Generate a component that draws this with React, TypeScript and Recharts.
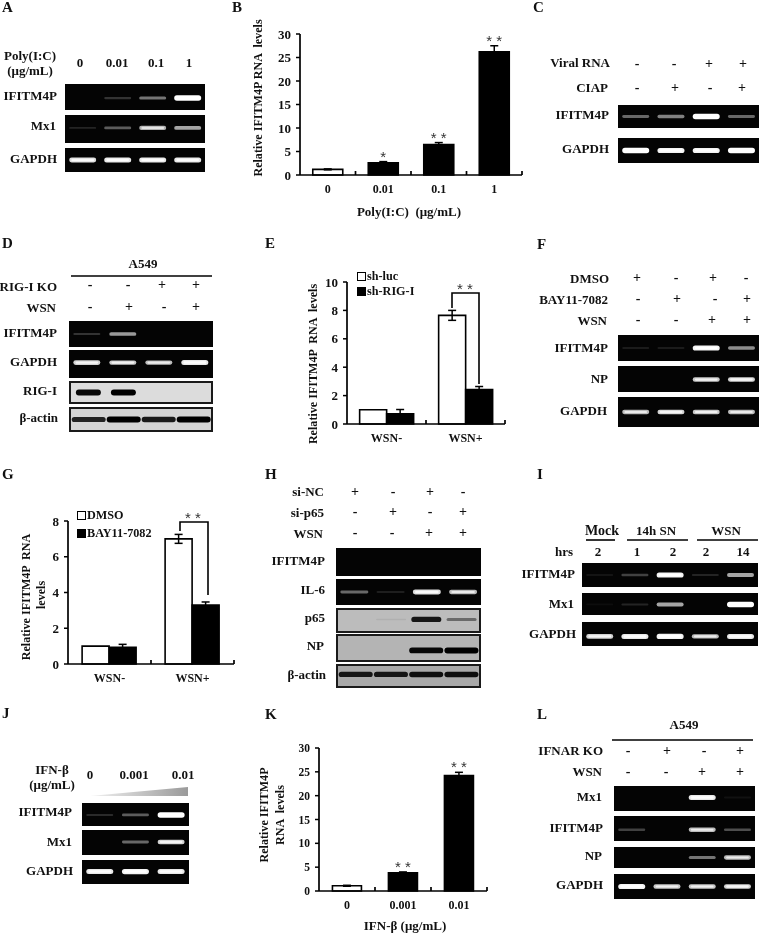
import React from 'react';
import { Bar, BarChart, Cell, ComposedChart, ErrorBar, LabelList, Legend, Line, XAxis, YAxis } from 'recharts';

const SERIF = '"Liberation Serif", "Times New Roman", serif';

// panel B
const bCats = ['0', '0.01', '0.1', '1'];
const bValues = [1.2, 2.6, 6.5, 26.2];
const bErrs = [0.1, 0.25, 0.4, 1.3];
const bStars = ['', '*', '* *', '* *'];
// panel E
const eCats = ['WSN-', 'WSN+'];
const eLuc = [1, 7.65];
const eLucErr = [0, 0.35];
const eRig = [0.72, 2.42];
const eRigErr = [0.3, 0.22];
// panel G
const gCats = ['WSN-', 'WSN+'];
const gDmso = [1, 7];
const gDmsoErr = [0, 0.25];
const gBay = [0.93, 3.3];
const gBayErr = [0.17, 0.17];
// panel K
const kCats = ['0', '0.001', '0.01'];
const kValues = [1.1, 3.8, 24.2];
const kErrs = [0.1, 0.2, 0.7];
const kStars = ['', '* *', '* *'];

// gel band strengths, one per lane
const aIfitm = [0, 0.15, 0.4, 1];
const aMx1 = [0.1, 0.3, 0.65, 0.6];
const aGapdh = [0.85, 0.9, 0.9, 0.9];
const cIfitm = [0.35, 0.45, 1, 0.35];
const cGapdh = [1, 0.95, 0.95, 1];
const dIfitm = [0.15, 0.55, 0, 0];
const dGapdh = [0.8, 0.75, 0.7, 0.9];
const dRig = [0.95, 1, 0, 0];
const dActin = [0.8, 1, 0.85, 1];
const fIfitm = [0.07, 0.07, 0.95, 0.5];
const fNp = [0, 0, 0.75, 0.8];
const fGapdh = [0.7, 0.8, 0.75, 0.7];
const hIfitm = [0, 0, 0, 0];
const hIl6 = [0.35, 0.08, 0.85, 0.7];
const hP65 = [0, 0.03, 0.85, 0.35];
const hNp = [0, 0, 0.95, 1];
const hActin = [0.85, 0.85, 0.9, 0.9];
const iIfitm = [0.05, 0.2, 0.95, 0.1, 0.6];
const iMx1 = [0.03, 0.1, 0.6, 0, 1];
const iGapdh = [0.8, 0.9, 0.95, 0.7, 0.9];
const jIfitm = [0.12, 0.3, 1];
const jMx1 = [0, 0.35, 0.8];
const jGapdh = [0.9, 0.95, 0.9];
const lMx1 = [0, 0, 0.9, 0.04];
const lIfitm = [0.2, 0, 0.7, 0.25];
const lNp = [0, 0, 0.4, 0.7];
const lGapdh = [0.95, 0.75, 0.75, 0.8];

// + / - rows
const cViral = ['-', '-', '+', '+'];
const cCiap = ['-', '+', '-', '+'];
const dKo = ['-', '-', '+', '+'];
const dWsn = ['-', '+', '-', '+'];
const fDmso = ['+', '-', '+', '-'];
const fBay = ['-', '+', '-', '+'];
const fWsn = ['-', '-', '+', '+'];
const hNc = ['+', '-', '+', '-'];
const hSi = ['-', '+', '-', '+'];
const hWsn = ['-', '-', '+', '+'];
const lKo = ['-', '+', '-', '+'];
const lWsn = ['-', '-', '+', '+'];

const T = ({ x, y, a = 'r', s = 13, children }: any) => {
  const tx = a === 'r' ? '-100%' : a === 'c' ? '-50%' : '0';
  return (
    <div style={{ position: 'absolute', left: x, top: y, transform: `translate(${tx}, -50%)`, font: `bold ${s}px ${SERIF}`, whiteSpace: 'pre', color: '#111' }}>
      {children}
    </div>
  );
};

const V = ({ x, y, s = 12.1, children }: any) => (
  <div style={{ position: 'absolute', left: x, top: y, transform: 'translate(-50%, -50%) rotate(-90deg)', font: `bold ${s}px ${SERIF}`, whiteSpace: 'pre', color: '#111' }}>
    {children}
  </div>
);

const Signs = ({ y, xs, signs }: any) => (
  <>
    {signs.map((sg: string, i: number) => (
      <T key={i} x={xs[i]} y={y} a="c" s={14}>{sg}</T>
    ))}
  </>
);

const gray = (t: number) => {
  const v = Math.round(255 * Math.pow(t, 0.85));
  return `rgb(${v},${v},${v})`;
};

// one blot strip: a bar per lane, the bar's height carries the band strength
const Gel = ({ x, y, w, h, values, at = 0.5, bg, frame, gap = '12%' }: any) => {
  const cw = frame ? w - 4 : w;
  const ch = frame ? h - 4 : h;
  const mid = ch * at;
  const band = (p: any) => {
    const t = p.height / ch;
    if (!(t > 0)) return <g />;
    if (frame) {
      const th = 1.5 + 4.5 * t;
      return <rect x={p.x} y={mid - th / 2} width={p.width} height={th} rx={th / 2} fill="#000" opacity={Math.pow(t, 0.8)} style={{ filter: 'blur(0.7px)' }} />;
    }
    const th = 1.6 + 3.8 * t;
    return (
      <g style={{ filter: 'blur(0.7px)' }}>
        <rect x={p.x} y={mid - th / 2} width={p.width} height={th} rx={th / 2} fill={gray(t)} />
        {t > 0.6 && <rect x={p.x + p.width * 0.08} y={mid - th / 4} width={p.width * 0.84} height={th / 2} rx={th / 4} fill="#fff" opacity={t} />}
      </g>
    );
  };
  const data = values.map((v: number, i: number) => ({ lane: String(i), signal: v }));
  return (
    <div style={{ position: 'absolute', left: x, top: y, width: w, height: h, boxSizing: 'border-box', background: bg || '#040404', border: frame ? '2px solid #1a1a1a' : 'none' }}>
      <BarChart width={cw} height={ch} data={data} margin={{ top: 0, right: 0, bottom: 0, left: 0 }} barCategoryGap={gap}>
        <XAxis dataKey="lane" hide />
        <YAxis hide domain={[0, 1]} />
        <Bar dataKey="signal" shape={band} isAnimationActive={false} />
      </BarChart>
    </div>
  );
};

const LegendBox = ({ payload, size }: any) => (
  <div>
    {(payload || []).map((e: any, i: number) => (
      <div key={e.value} style={{ display: 'flex', alignItems: 'center', height: size, font: `bold 12.2px ${SERIF}`, color: '#111' }}>
        <span style={{ width: 7, height: 7, border: '1.5px solid #000', background: i === 0 ? '#fff' : '#000', marginRight: 1 }} />
        {e.value}
      </div>
    ))}
  </div>
);

// plot box is given in page pixels so the axes land where the figure has them
const RnaChart = ({ left, top, w, h, data, series, max, ticks, font = 13, xFont = 12, gap, legendAt, legendRow, openFirst }: any) => {
  const pad = { left: 32, top: 22, right: 8, bottom: 26 };
  const tick = { fill: '#111', fontSize: font, fontWeight: 'bold', fontFamily: SERIF };
  const bandW = w / data.length;
  // category label below the axis, with the short inward mark at the band's right edge
  const catTick = (p: any) => (
    <g>
      <line x1={p.x + bandW / 2} x2={p.x + bandW / 2} y1={p.y} y2={p.y - 4} stroke="#000" strokeWidth={1.7} />
      <text x={p.x} y={p.y + 15} textAnchor="middle" dominantBaseline="middle" fill="#111" fontSize={xFont} fontWeight="bold" fontFamily={SERIF}>
        {p.payload.value}
      </text>
    </g>
  );
  return (
    <div style={{ position: 'absolute', left: left - pad.left, top: top - pad.top }}>
      <ComposedChart
        width={w + pad.left + pad.right}
        height={h + pad.top + pad.bottom}
        data={data}
        margin={{ top: pad.top, right: pad.right, bottom: 0, left: 0 }}
        barCategoryGap={gap}
        barGap={0}
      >
        <XAxis
          dataKey="cat"
          height={pad.bottom}
          tickLine={false}
          tickSize={0}
          tickMargin={0}
          interval={0}
          axisLine={{ stroke: '#000', strokeWidth: 1.7 }}
          tick={catTick}
        />
        <YAxis
          width={pad.left}
          domain={[0, max]}
          ticks={ticks}
          tickSize={4}
          tickMargin={5}
          interval={0}
          axisLine={{ stroke: '#000', strokeWidth: 1.7 }}
          tickLine={{ stroke: '#000', strokeWidth: 1.5 }}
          tick={tick}
        />
        {series.map((s: any) => (
          <Bar key={s.key} name={s.name} dataKey={s.key} fill={s.fill} stroke="#000" strokeWidth={1.6} isAnimationActive={false}>
            {openFirst && data.map((_: any, i: number) => <Cell key={i} fill={i === 0 ? '#fff' : s.fill} />)}
            <ErrorBar dataKey={s.err} width={4} stroke="#000" strokeWidth={1.5} isAnimationActive={false} />
          </Bar>
        ))}
        {openFirst && (
          <Line dataKey="capTop" stroke="none" dot={false} legendType="none" isAnimationActive={false}>
            <LabelList dataKey="star" position="top" offset={0} style={{ fill: '#333', fontSize: 15, fontFamily: '"Liberation Sans", sans-serif' }} />
          </Line>
        )}
        {legendAt && (
          <Legend
            layout="vertical"
            align="center"
            verticalAlign="middle"
            itemSorter={null}
            wrapperStyle={{ left: legendAt[0] - left + pad.left, top: legendAt[1] - top + pad.top, width: 120, height: 40, bottom: 'auto', right: 'auto' }}
            content={(p: any) => <LegendBox payload={p.payload} size={legendRow} />}
          />
        )}
      </ComposedChart>
    </div>
  );
};

const bData = bCats.map((cat, i) => ({ cat, v: bValues[i], e: bErrs[i], star: bStars[i], capTop: bValues[i] + bErrs[i] }));
const kData = kCats.map((cat, i) => ({ cat, v: kValues[i], e: kErrs[i], star: kStars[i], capTop: kValues[i] + kErrs[i] }));
const eData = eCats.map((cat, i) => ({ cat, a: eLuc[i], ae: eLucErr[i], b: eRig[i], be: eRigErr[i] }));
const gData = gCats.map((cat, i) => ({ cat, a: gDmso[i], ae: gDmsoErr[i], b: gBay[i], be: gBayErr[i] }));

const Annotations = () => (
  <svg width={760} height={933} style={{ position: 'absolute', left: 0, top: 0, pointerEvents: 'none' }}>
    <defs>
      <linearGradient id="ramp" x1="0" x2="1" y1="0" y2="0">
        <stop offset="0" stopColor="#f2f2f2" />
        <stop offset="1" stopColor="#9a9a9a" />
      </linearGradient>
    </defs>
    <polyline points="452,308 452,293 479,293 479,384" fill="none" stroke="#000" strokeWidth={1.6} />
    <polyline points="180,531 180,522 208,522 208,595" fill="none" stroke="#000" strokeWidth={1.6} />
    <line x1={71} x2={212} y1={276} y2={276} stroke="#000" strokeWidth={1.6} />
    <line x1={612} x2={753} y1={740} y2={740} stroke="#000" strokeWidth={1.6} />
    <line x1={586} x2={615} y1={540} y2={540} stroke="#000" strokeWidth={1.6} />
    <line x1={627} x2={688} y1={540} y2={540} stroke="#000" strokeWidth={1.6} />
    <line x1={697} x2={758} y1={540} y2={540} stroke="#000" strokeWidth={1.6} />
    <polygon points="90,796 188,787 188,796" fill="url(#ramp)" />
  </svg>
);

const Star2 = ({ x, y }: any) => (
  <div style={{ position: 'absolute', left: x, top: y, transform: 'translate(-50%, -50%)', font: '15px "Liberation Sans", sans-serif', color: '#333', whiteSpace: 'pre' }}>* *</div>
);

export default function App() {
  return (
    <div style={{ position: 'absolute', left: 0, top: 0, width: 760, height: 933, background: '#fff', overflow: 'hidden', filter: 'blur(0.3px)' }}>
      {/* A */}
      <T x={2} y={7} a="l" s={15}>A</T>
      <T x={30} y={56} a="c">Poly(I:C)</T>
      <T x={30} y={71} a="c">(μg/mL)</T>
      <T x={80} y={63} a="c">0</T>
      <T x={117} y={63} a="c">0.01</T>
      <T x={156} y={63} a="c">0.1</T>
      <T x={189} y={63} a="c">1</T>
      <T x={57} y={96}>IFITM4P</T>
      <T x={56} y={126}>Mx1</T>
      <T x={57} y={159}>GAPDH</T>
      <Gel x={65} y={84} w={140} h={26} values={aIfitm} at={0.54} />
      <Gel x={65} y={115} w={140} h={28} values={aMx1} at={0.46} />
      <Gel x={65} y={148} w={140} h={24} values={aGapdh} />

      {/* B */}
      <T x={232} y={7} a="l" s={15}>B</T>
      <V x={258} y={98}>{'Relative IFITM4P RNA  levels'}</V>
      <RnaChart left={300} top={34} w={222} h={141} data={bData} series={[{ key: 'v', err: 'e', fill: '#000' }]} max={30} ticks={[0, 5, 10, 15, 20, 25, 30]} gap="23%" openFirst />
      <T x={409} y={212} a="c">{'Poly(I:C)  (μg/mL)'}</T>

      {/* C */}
      <T x={533} y={7} a="l" s={15}>C</T>
      <T x={610} y={63}>Viral RNA</T>
      <T x={608} y={88}>CIAP</T>
      <T x={609} y={115}>IFITM4P</T>
      <T x={609} y={149}>GAPDH</T>
      <Signs y={64} xs={[637, 674, 709, 743]} signs={cViral} />
      <Signs y={88} xs={[637, 675, 710, 742]} signs={cCiap} />
      <Gel x={618} y={105} w={141} h={23} values={cIfitm} at={0.5} />
      <Gel x={618} y={138} w={141} h={25} values={cGapdh} at={0.5} />

      {/* D */}
      <T x={2} y={243} a="l" s={15}>D</T>
      <T x={143} y={264} a="c">A549</T>
      <T x={57} y={287}>RIG-I KO</T>
      <T x={56} y={308}>WSN</T>
      <T x={57} y={333}>IFITM4P</T>
      <T x={57} y={362}>GAPDH</T>
      <T x={57} y={391}>RIG-I</T>
      <T x={58} y={418}>β-actin</T>
      <Signs y={285} xs={[90, 128, 162, 196]} signs={dKo} />
      <Signs y={307} xs={[90, 129, 164, 196]} signs={dWsn} />
      <Gel x={69} y={321} w={144} h={26} values={dIfitm} at={0.5} />
      <Gel x={69} y={350} w={144} h={28} values={dGapdh} at={0.45} />
      <Gel x={69} y={381} w={144} h={23} values={dRig} at={0.5} bg="#dcdcdc" frame gap="14%" />
      <Gel x={69} y={407} w={144} h={25} values={dActin} at={0.5} bg="#d4d4d4" frame gap="2%" />

      {/* E */}
      <T x={265} y={243} a="l" s={15}>E</T>
      <V x={313} y={364}>{'Relative IFITM4P  RNA  levels'}</V>
      <RnaChart left={347} top={282} w={158} h={142} data={eData} series={[{ key: 'a', err: 'ae', fill: '#fff', name: 'sh-luc' }, { key: 'b', err: 'be', fill: '#000', name: 'sh-RIG-I' }]} max={10} ticks={[0, 2, 4, 6, 8, 10]} gap="16%" legendAt={[357, 269]} legendRow={15} />
      <Star2 x={465} y={288} />

      {/* F */}
      <T x={537} y={244} a="l" s={15}>F</T>
      <T x={609} y={279}>DMSO</T>
      <T x={608} y={300}>BAY11-7082</T>
      <T x={607} y={321}>WSN</T>
      <T x={608} y={348}>IFITM4P</T>
      <T x={608} y={379}>NP</T>
      <T x={607} y={411}>GAPDH</T>
      <Signs y={278} xs={[637, 676, 713, 746]} signs={fDmso} />
      <Signs y={299} xs={[638, 677, 715, 747]} signs={fBay} />
      <Signs y={320} xs={[638, 676, 712, 747]} signs={fWsn} />
      <Gel x={618} y={335} w={141} h={26} values={fIfitm} at={0.5} />
      <Gel x={618} y={366} w={141} h={26} values={fNp} at={0.52} />
      <Gel x={618} y={397} w={141} h={30} values={fGapdh} at={0.5} />

      {/* G */}
      <T x={2} y={474} a="l" s={15}>G</T>
      <V x={26} y={597}>{'Relative IFITM4P  RNA'}</V>
      <V x={41} y={595}>levels</V>
      <RnaChart left={68} top={521} w={166} h={143} data={gData} series={[{ key: 'a', err: 'ae', fill: '#fff', name: 'DMSO' }, { key: 'b', err: 'be', fill: '#000', name: 'BAY11-7082' }]} max={8} ticks={[0, 2, 4, 6, 8]} gap="17%" legendAt={[77, 506]} legendRow={18} />
      <Star2 x={193} y={517} />

      {/* H */}
      <T x={265} y={474} a="l" s={15}>H</T>
      <T x={324} y={492}>si-NC</T>
      <T x={324} y={513}>si-p65</T>
      <T x={323} y={534}>WSN</T>
      <T x={325} y={561}>IFITM4P</T>
      <T x={325} y={590}>IL-6</T>
      <T x={325} y={618}>p65</T>
      <T x={324} y={646}>NP</T>
      <T x={326} y={675}>β-actin</T>
      <Signs y={492} xs={[355, 393, 430, 463]} signs={hNc} />
      <Signs y={512} xs={[355, 393, 430, 463]} signs={hSi} />
      <Signs y={533} xs={[355, 392, 429, 463]} signs={hWsn} />
      <Gel x={336} y={548} w={145} h={28} values={hIfitm} />
      <Gel x={336} y={579} w={145} h={26} values={hIl6} at={0.5} />
      <Gel x={336} y={608} w={145} h={25} values={hP65} at={0.45} bg="#bcbcbc" frame gap="8%" />
      <Gel x={336} y={634} w={145} h={28} values={hNp} at={0.6} bg="#b4b4b4" frame gap="2%" />
      <Gel x={336} y={664} w={145} h={24} values={hActin} at={0.42} bg="#a8a8a8" frame gap="2%" />

      {/* I */}
      <T x={537} y={474} a="l" s={15}>I</T>
      <T x={602} y={531} a="c" s={14}>Mock</T>
      <T x={656} y={531} a="c">14h SN</T>
      <T x={726} y={531} a="c">WSN</T>
      <T x={573} y={552}>hrs</T>
      <T x={598} y={552} a="c">2</T>
      <T x={637} y={552} a="c">1</T>
      <T x={673} y={552} a="c">2</T>
      <T x={706} y={552} a="c">2</T>
      <T x={743} y={552} a="c">14</T>
      <T x={575} y={574}>IFITM4P</T>
      <T x={574} y={604}>Mx1</T>
      <T x={576} y={634}>GAPDH</T>
      <Gel x={582} y={563} w={176} h={24} values={iIfitm} at={0.5} />
      <Gel x={582} y={593} w={176} h={22} values={iMx1} at={0.52} />
      <Gel x={582} y={622} w={176} h={24} values={iGapdh} at={0.6} />

      {/* J */}
      <T x={2} y={713} a="l" s={15}>J</T>
      <T x={52} y={770} a="c">IFN-β</T>
      <T x={52} y={785} a="c">(μg/mL)</T>
      <T x={90} y={775} a="c">0</T>
      <T x={134} y={775} a="c">0.001</T>
      <T x={183} y={775} a="c">0.01</T>
      <T x={72} y={812}>IFITM4P</T>
      <T x={72} y={842}>Mx1</T>
      <T x={73} y={871}>GAPDH</T>
      <Gel x={82} y={803} w={107} h={23} values={jIfitm} at={0.52} />
      <Gel x={82} y={830} w={107} h={25} values={jMx1} at={0.48} />
      <Gel x={82} y={860} w={107} h={24} values={jGapdh} at={0.48} />

      {/* K */}
      <T x={265} y={714} a="l" s={15}>K</T>
      <V x={264} y={815}>Relative IFITM4P</V>
      <V x={280} y={815}>{'RNA  levels'}</V>
      <RnaChart left={319} top={748} w={168} h={143} data={kData} series={[{ key: 'v', err: 'e', fill: '#000' }]} max={30} ticks={[0, 5, 10, 15, 20, 25, 30]} font={11.5} gap="24%" openFirst />
      <T x={405} y={926} a="c">{'IFN-β (μg/mL)'}</T>

      {/* L */}
      <T x={537} y={714} a="l" s={15}>L</T>
      <T x={684} y={725} a="c">A549</T>
      <T x={603} y={751}>IFNAR KO</T>
      <T x={602} y={772}>WSN</T>
      <T x={602} y={797}>Mx1</T>
      <T x={603} y={828}>IFITM4P</T>
      <T x={602} y={856}>NP</T>
      <T x={603} y={885}>GAPDH</T>
      <Signs y={751} xs={[628, 667, 704, 740]} signs={lKo} />
      <Signs y={772} xs={[628, 666, 702, 740]} signs={lWsn} />
      <Gel x={614} y={786} w={141} h={25} values={lMx1} at={0.46} />
      <Gel x={614} y={816} w={141} h={25} values={lIfitm} at={0.55} />
      <Gel x={614} y={847} w={141} h={21} values={lNp} at={0.5} />
      <Gel x={614} y={874} w={141} h={25} values={lGapdh} at={0.5} />

      <Annotations />
    </div>
  );
}
